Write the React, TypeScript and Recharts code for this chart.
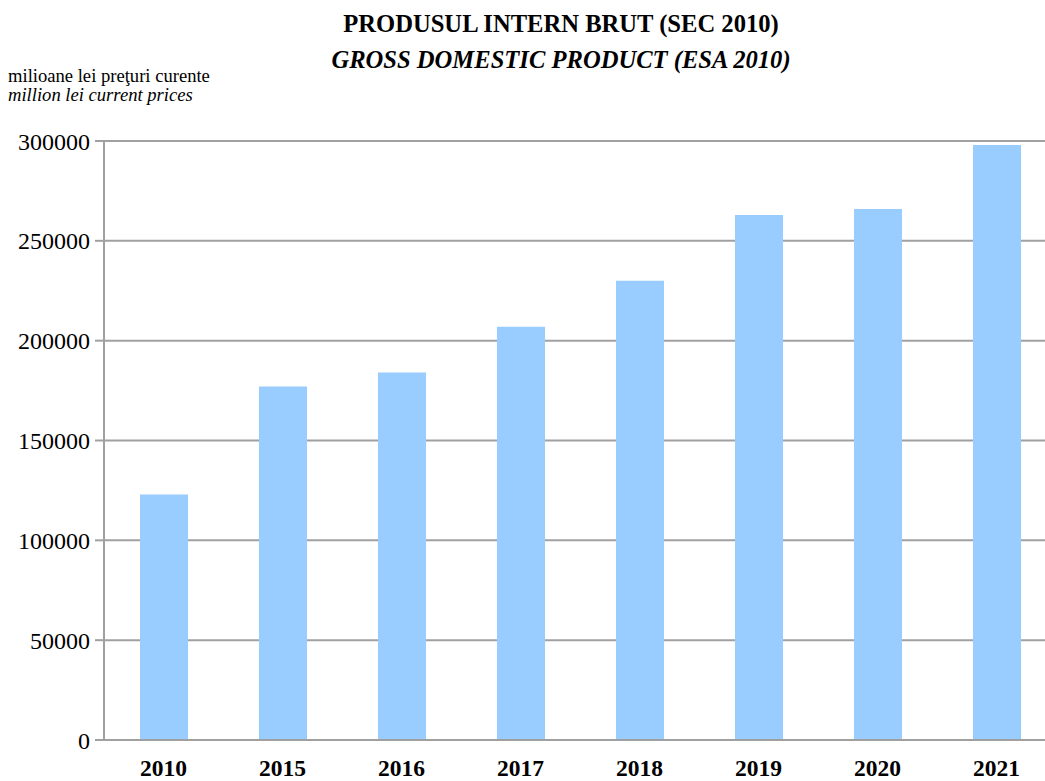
import { BarChart, Bar, XAxis, YAxis, CartesianGrid } from "recharts";

const years = ["2010", "2015", "2016", "2017", "2018", "2019", "2020", "2021"];
const gdp = [123000, 177000, 184000, 207000, 230000, 263000, 266000, 298000];
const yTicks = [0, 50000, 100000, 150000, 200000, 250000, 300000];

const data = years.map((y, i) => ({ year: y, gdp: gdp[i] }));

const serif = '"Liberation Serif", "Times New Roman", serif';
const gridColor = "#a0a0a0";

const titleLine = {
  position: "absolute" as const,
  left: 561,
  transform: "translateX(-50%)",
  whiteSpace: "nowrap" as const,
  fontSize: 24.6,
  lineHeight: "36px",
  fontWeight: "bold" as const,
};

export default function App() {
  return (
    <div
      style={{
        position: "fixed",
        left: 0,
        top: 0,
        width: 1045,
        height: 781,
        overflow: "hidden",
        background: "#fff",
        fontFamily: serif,
        color: "#000",
      }}
    >
      <div style={{ ...titleLine, top: 6 }}>PRODUSUL INTERN BRUT (SEC 2010)</div>
      <div style={{ ...titleLine, top: 42, fontStyle: "italic" }}>GROSS DOMESTIC PRODUCT (ESA 2010)</div>
      <div style={{ position: "absolute", left: 8, top: 66, fontSize: 18.6, lineHeight: "19px" }}>
        <div>milioane lei preţuri curente</div>
        <div style={{ fontStyle: "italic" }}>million lei current prices</div>
      </div>
      <div style={{ position: "absolute", left: 0, top: 0 }}>
        <BarChart
          width={1060}
          height={781}
          data={data}
          margin={{ top: 141, right: 4, bottom: 11, left: 0 }}
          barSize={48}
        >
          <CartesianGrid vertical={false} stroke={gridColor} strokeWidth={2} />
          <XAxis
            dataKey="year"
            height={30}
            axisLine={{ stroke: gridColor, strokeWidth: 2 }}
            tickLine={false}
            tickSize={0}
            tickMargin={19}
            tick={{ fill: "#000", fontSize: 23.5, fontWeight: "bold", fontFamily: serif }}
            interval={0}
          />
          <YAxis
            width={104}
            domain={[0, 300000]}
            ticks={yTicks}
            interval={0}
            axisLine={{ stroke: gridColor, strokeWidth: 2 }}
            tickLine={{ stroke: gridColor, strokeWidth: 2 }}
            tickSize={9}
            tickMargin={5}
            tick={{ fill: "#000", fontSize: 24, fontFamily: serif }}
          />
          <Bar dataKey="gdp" fill="#99ccff" isAnimationActive={false} />
        </BarChart>
      </div>
    </div>
  );
}
